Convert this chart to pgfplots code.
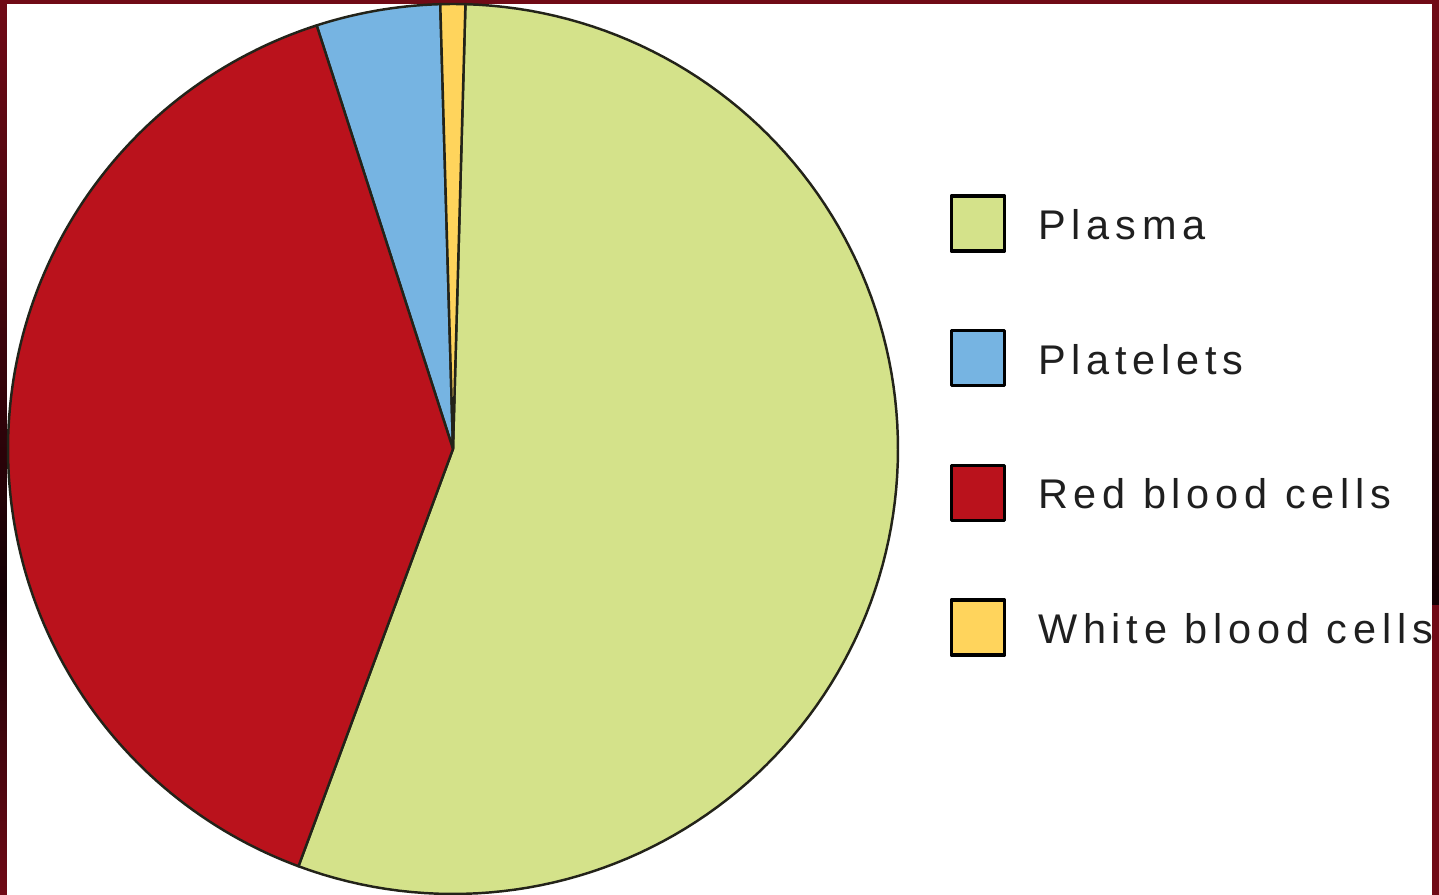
\documentclass[border=0pt]{standalone}
\usepackage{pgfplots}
\pgfplotsset{compat=1.18}
\usepackage{fontspec}
\setmainfont{Liberation Sans}[LetterSpace=14]

\definecolor{plasma}{RGB}{212,226,138}
\definecolor{platelet}{RGB}{118,180,226}
\definecolor{rbc}{RGB}{186,18,28}
\definecolor{wbc}{RGB}{255,212,92}
\definecolor{slideframe}{RGB}{112,10,22}
\definecolor{slidedark}{RGB}{20,0,4}
\definecolor{edge}{RGB}{35,35,25}

% share of blood volume, percent
\def\pPlasma{55.2}
\def\pWhite{0.9}
\def\pPlatelets{4.5}
\def\pRed{39.4}

\begin{document}
\begin{tikzpicture}
\useasboundingbox (0,0) rectangle (143.9mm,89.5mm);
\fill[slideframe] (0,0) rectangle (143.9mm,89.5mm);
\shade[top color=slideframe, bottom color=slidedark] (0,30mm) rectangle (0.7mm,89.5mm);
\shade[top color=slidedark, bottom color=slideframe] (0,0) rectangle (0.7mm,30mm);
\fill[white] (0.7mm,0) rectangle (143.2mm,89.1mm);
% slice boundaries in degrees, plasma ends just right of 12 o'clock
\pgfmathsetmacro\aA{88.4}
\pgfmathsetmacro\aPl{\aA-3.6*\pPlasma}
\pgfmathsetmacro\aW{\aA+3.6*\pWhite}
\pgfmathsetmacro\aP{\aW+3.6*\pPlatelets}
\pgfmathsetmacro\aR{\aP+3.6*\pRed}
\begin{axis}[
  scale only axis, width=89mm, height=89mm,
  at={(45.3mm,44.6mm)}, anchor=center,
  xmin=-1, xmax=1, ymin=-1, ymax=1,
  hide axis, clip=false,
  legend style={at={(1.0579,0.786)}, anchor=north west,
    draw=none, fill=none, inner sep=0pt, outer sep=0pt,
    font=\fontsize{11.8}{14}\selectfont, text=black!88,
    /tikz/column sep=3.2mm, /tikz/row sep=7.65mm,
    nodes={inner sep=0pt, outer sep=0pt},
    cells={anchor=base west}},
  legend image code/.code={
    \draw[#1, draw=black, line width=0.9pt] (0.45pt,-1.15mm) rectangle (5.5mm,4.35mm);},
  every axis plot/.append style={draw=edge, line width=0.7pt, line join=round, samples=120},
]
\addplot[fill=plasma, domain=\aPl:\aA] ({cos(x)},{sin(x)}) -- (0,0) -- cycle;
\addlegendentry{Plasma}
\addplot[fill=platelet, domain=\aW:\aP] ({cos(x)},{sin(x)}) -- (0,0) -- cycle;
\addlegendentry{Platelets}
\addplot[fill=rbc, domain=\aP:\aR] ({cos(x)},{sin(x)}) -- (0,0) -- cycle;
\addlegendentry{Red blood cells}
\addplot[fill=wbc, domain=\aA:\aW] ({cos(x)},{sin(x)}) -- (0,0) -- cycle;
\addlegendentry{White blood cells}
\end{axis}
% right edge of the slide frame covers the end of the last label
\fill[slideframe] (143.2mm,0) rectangle (143.9mm,89.5mm);
\shade[top color=slideframe, bottom color=slidedark] (143.2mm,29mm) rectangle (143.9mm,89.5mm);
\end{tikzpicture}
\end{document}
